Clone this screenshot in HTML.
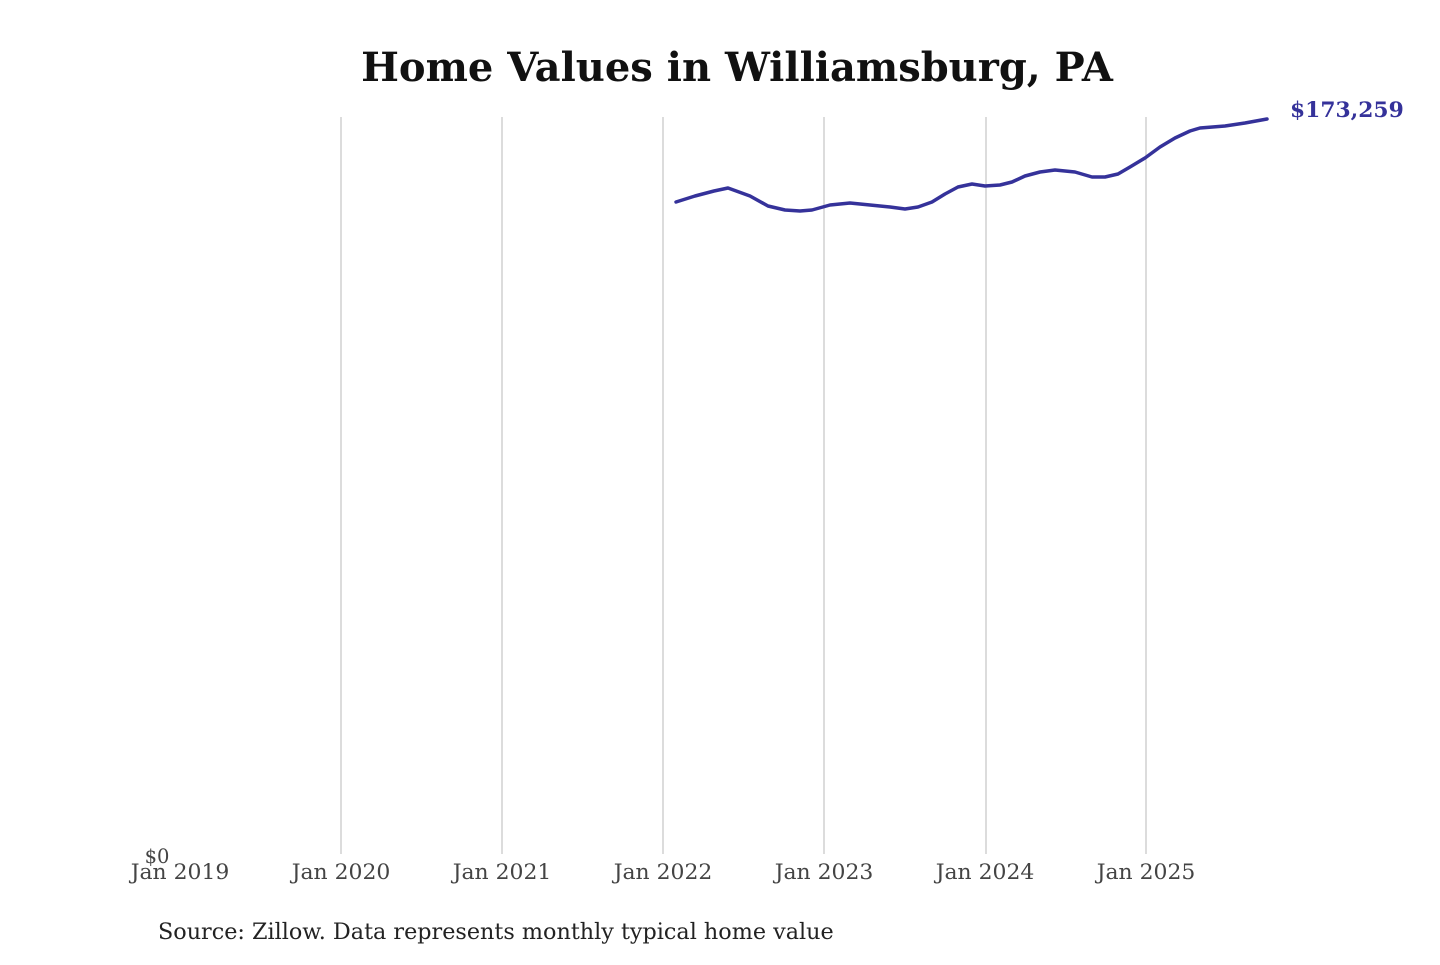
<!DOCTYPE html>
<html><head><meta charset="utf-8"><style>
body{margin:0;background:#fff;}
svg text{font-family:"DejaVu Serif","Liberation Serif",serif;}
</style></head><body>
<svg width="1440" height="960" xmlns="http://www.w3.org/2000/svg">
<rect width="1440" height="960" fill="#fff"/>
<text x="737" y="81" text-anchor="middle" font-size="40" font-weight="bold" fill="#111">Home Values in Williamsburg, PA</text>
<g stroke="#c4c4c4" stroke-width="1.2">
<line x1="341" y1="117" x2="341" y2="854"/>
<line x1="502" y1="117" x2="502" y2="854"/>
<line x1="663" y1="117" x2="663" y2="854"/>
<line x1="824" y1="117" x2="824" y2="854"/>
<line x1="986" y1="117" x2="986" y2="854"/>
<line x1="1146" y1="117" x2="1146" y2="854"/>
</g>
<polyline fill="none" stroke="#35329a" stroke-width="3.5" stroke-linejoin="round" stroke-linecap="round" points="676,202 695,196 714,191 728,188 750,196 768,206 785,210 800,211 812,210 830,205 850,203 870,205 890,207 905,209 918,207 932,202 945,194 958,187 972,184 985,186 1000,185 1012,182 1025,176 1040,172 1055,170 1075,172 1092,177 1105,177 1118,174 1130,167 1145,158 1160,147 1175,138 1190,131 1200,128 1225,126 1245,123 1267,119"/>
<text x="1290" y="117" font-size="21.8" font-weight="bold" fill="#35329a">$173,259</text>
<text x="157" y="863" text-anchor="middle" font-size="19.5" fill="#444">$0</text>
<g font-size="21.9" fill="#444" text-anchor="middle">
<text x="180" y="879">Jan 2019</text>
<text x="341" y="879">Jan 2020</text>
<text x="502" y="879">Jan 2021</text>
<text x="663" y="879">Jan 2022</text>
<text x="824" y="879">Jan 2023</text>
<text x="985" y="879">Jan 2024</text>
<text x="1146" y="879">Jan 2025</text>
</g>
<text x="158" y="939" font-size="22.3" fill="#222">Source: Zillow. Data represents monthly typical home value</text>
</svg>
</body></html>
